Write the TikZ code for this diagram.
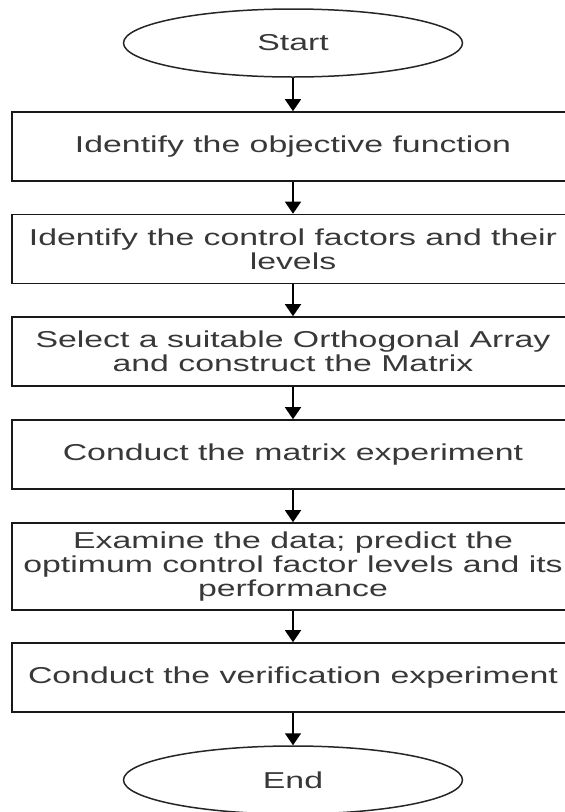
\documentclass[tikz,border=0pt]{standalone}
\usepackage{fontspec}
\setmainfont[FakeStretch=1.47]{Liberation Sans}
\usetikzlibrary{shapes.geometric,arrows.meta}
\tikzset{
	stepbox/.style={draw=black!90, line width=1.6pt, rectangle, minimum width=562pt, minimum height=69pt, align=center, inner sep=0pt},
	term/.style={draw=black!85, line width=1.5pt, ellipse, minimum width=339pt, minimum height=68pt, inner sep=0pt},
	flow/.style={line width=1.6pt, -{Triangle[width=16pt,length=12pt]}}
}
\begin{document}
\begin{tikzpicture}[x=1pt, y=-1pt, font=\fontsize{23}{24}\selectfont, text=black!78]
	\useasboundingbox (0,0) rectangle (565,812);
	\clip (0,0) rectangle (565,812);
	\node [term] (start) at (293,43) {Start};
	\node [stepbox] (objfun) at (293,146.5) {Identify the objective function};
	\node [stepbox] (factors) at (293,249) {Identify the control factors and their\\levels};
	\node [stepbox] (array) at (293,351.5) {Select a suitable Orthogonal Array\\and construct the Matrix};
	\node [stepbox] (matexp) at (293,454.5) {Conduct the matrix experiment};
	\node [stepbox, minimum height=87pt] (examine) at (293,566.5) {Examine the data; predict the\\optimum control factor levels and its\\performance};
	\node [stepbox] (verify) at (293,677.5) {Conduct the verification experiment};
	\node [term] (end) at (293,780) {End};
	%arrows
	\draw [flow] (start) -- (objfun);
	\draw [flow] (objfun) -- (factors);
	\draw [flow] (factors) -- (array);
	\draw [flow] (array) -- (matexp);
	\draw [flow] (matexp) -- (examine);
	\draw [flow] (examine) -- (verify);
	\draw [flow] (verify) -- (end);
\end{tikzpicture}
\end{document}
